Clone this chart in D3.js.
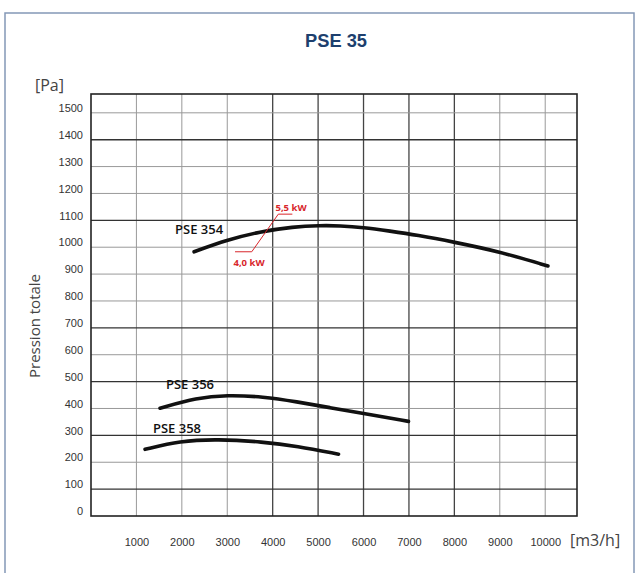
<!DOCTYPE html>
<html>
<head>
<meta charset="utf-8">
<script src="https://cdn.jsdelivr.net/npm/d3@7"></script>
<style>
  body { margin: 0; background: #fff; }
  svg { display: block; }
</style>
</head>
<body>
<div id="chart"></div>
<script>
var width = 636;
var height = 573;

// axis ticks
var xTicks = [1000, 2000, 3000, 4000, 5000, 6000, 7000, 8000, 9000, 10000];
var yTicks = [0, 100, 200, 300, 400, 500, 600, 700, 800, 900, 1000, 1100, 1200, 1300, 1400, 1500];

// curves [m3/h, Pa]
var pse354 = [[2270, 983], [2990, 1027], [3720, 1058], [4450, 1076], [5040, 1081], [5480, 1080],
              [5990, 1074], [6580, 1060], [7180, 1045], [7970, 1020], [9010, 983], [10060, 930]];
var pse356 = [[1520, 401], [2330, 440], [2990, 450], [3790, 444], [4530, 425], [5260, 403],
              [5990, 382], [6990, 352]];
var pse358 = [[1190, 248], [1960, 279], [2770, 286], [3790, 276], [4530, 260], [5450, 230]];

var curveNames = ["PSE 354", "PSE 356", "PSE 358"];
var curveLabelPos = [[1850, 1049], [1650, 472], [1365, 309]];

// power annotation on PSE 354
var kwLabels = ["5,5 kW", "4,0 kW"];
var kwLabelPos = [[4404, 1146], [3479, 941]];
var kwLeader = [[4433, 1123], [4124, 1123], [3539, 983], [3171, 983]];

// grid lines that are printed darker
var darkX = [4000, 5000, 6000, 7000, 8000];
var darkY = [100, 300, 500, 700, 1100, 1400];

var x = d3.scaleLinear().domain([0, 10700]).range([91, 577]);
var y = d3.scaleLinear().domain([0, 1570]).range([516, 94]);

var svg = d3.select("#chart").append("svg")
    .attr("width", width)
    .attr("height", height);

// outer frame
svg.append("rect")
    .attr("x", 5).attr("y", 13)
    .attr("width", 629).attr("height", 600)
    .attr("fill", "none")
    .attr("stroke", "#8498b6")
    .attr("stroke-width", 1.5);

svg.append("text")
    .attr("x", 336).attr("y", 47)
    .attr("text-anchor", "middle")
    .attr("font-family", "Liberation Sans, Arial, sans-serif")
    .attr("font-weight", "bold")
    .attr("font-size", 19)
    .attr("textLength", 62)
    .attr("lengthAdjust", "spacingAndGlyphs")
    .attr("fill", "#1d3f6e")
    .text("PSE 35");

// grid
var grid = svg.append("g");
grid.selectAll("line.gx")
    .data(xTicks)
    .enter()
    .append("line")
    .attr("class", "gx")
    .attr("x1", function(d){ return x(d); })
    .attr("x2", function(d){ return x(d); })
    .attr("y1", y.range()[1])
    .attr("y2", y.range()[0])
    .attr("stroke", function(d){ return darkX.indexOf(d) >= 0 ? "#444" : "#999"; })
    .attr("stroke-width", function(d){ return darkX.indexOf(d) >= 0 ? 1.3 : 1; });

grid.selectAll("line.gy")
    .data(yTicks.filter(function(d){ return d > 0; }))
    .enter()
    .append("line")
    .attr("class", "gy")
    .attr("x1", x.range()[0])
    .attr("x2", x.range()[1])
    .attr("y1", function(d){ return y(d); })
    .attr("y2", function(d){ return y(d); })
    .attr("stroke", function(d){ return darkY.indexOf(d) >= 0 ? "#333" : "#999"; })
    .attr("stroke-width", function(d){ return darkY.indexOf(d) >= 0 ? 1.4 : 1; });

svg.append("rect")
    .attr("x", x.range()[0]).attr("y", y.range()[1])
    .attr("width", x.range()[1] - x.range()[0])
    .attr("height", y.range()[0] - y.range()[1])
    .attr("fill", "none")
    .attr("stroke", "#222")
    .attr("stroke-width", 1.6);

// axes
var yAxis = svg.append("g")
    .attr("transform", "translate(" + x.range()[0] + ",0)")
    .call(d3.axisLeft(y).tickValues(yTicks).tickFormat(d3.format("d")).tickSize(0).tickPadding(8));
yAxis.select(".domain").remove();
yAxis.selectAll("text")
    .attr("dy", "-0.12em")
    .attr("font-family", "Liberation Sans, Arial, sans-serif")
    .attr("font-size", 11)
    .attr("fill", "#333");

var xAxis = svg.append("g")
    .attr("transform", "translate(0," + y.range()[0] + ")")
    .call(d3.axisBottom(x).tickValues(xTicks).tickFormat(d3.format("d")).tickSize(0).tickPadding(28));
xAxis.select(".domain").remove();
xAxis.selectAll("text")
    .attr("dy", "0.2em")
    .attr("font-family", "Liberation Sans, Arial, sans-serif")
    .attr("font-size", 11)
    .attr("fill", "#333");

svg.append("text")
    .attr("x", 35).attr("y", 91)
    .attr("font-family", "Open Sans, sans-serif")
    .attr("font-size", 16)
    .attr("fill", "#444")
    .text("[Pa]");

svg.append("text")
    .attr("x", 570).attr("y", 546)
    .attr("font-family", "Open Sans, sans-serif")
    .attr("font-size", 16)
    .attr("fill", "#444")
    .text("[m3/h]");

svg.append("text")
    .attr("transform", "translate(40,326) rotate(-90)")
    .attr("text-anchor", "middle")
    .attr("font-family", "Open Sans, sans-serif")
    .attr("font-size", 15)
    .attr("fill", "#444")
    .text("Pression totale");

// curves
var line = d3.line()
    .x(function(d){ return x(d[0]); })
    .y(function(d){ return y(d[1]); })
    .curve(d3.curveBasis);

svg.append("g")
    .selectAll("path")
    .data([pse354, pse356, pse358])
    .enter()
    .append("path")
    .attr("d", line)
    .attr("fill", "none")
    .attr("stroke", "#111")
    .attr("stroke-width", 3.6)
    .attr("stroke-linecap", "round");

svg.append("g")
    .selectAll("text")
    .data(curveNames)
    .enter()
    .append("text")
    .attr("x", function(d, i){ return x(curveLabelPos[i][0]); })
    .attr("y", function(d, i){ return y(curveLabelPos[i][1]); })
    .attr("font-family", "Open Sans, sans-serif")
    .attr("font-weight", 600)
    .attr("font-size", 13)
    .attr("fill", "#111")
    .text(function(d){ return d; });

// kW annotation
svg.append("path")
    .attr("d", d3.line()
        .x(function(d){ return x(d[0]); })
        .y(function(d){ return y(d[1]); })(kwLeader))
    .attr("fill", "none")
    .attr("stroke", "#d8262b")
    .attr("stroke-width", 1);

svg.append("g")
    .selectAll("text")
    .data(kwLabels)
    .enter()
    .append("text")
    .attr("x", function(d, i){ return x(kwLabelPos[i][0]); })
    .attr("y", function(d, i){ return y(kwLabelPos[i][1]); })
    .attr("dy", "0.35em")
    .attr("text-anchor", "middle")
    .attr("font-family", "Open Sans, sans-serif")
    .attr("font-weight", "bold")
    .attr("font-size", 9.5)
    .attr("fill", "#d8262b")
    .text(function(d){ return d; });
</script>
</body>
</html>
